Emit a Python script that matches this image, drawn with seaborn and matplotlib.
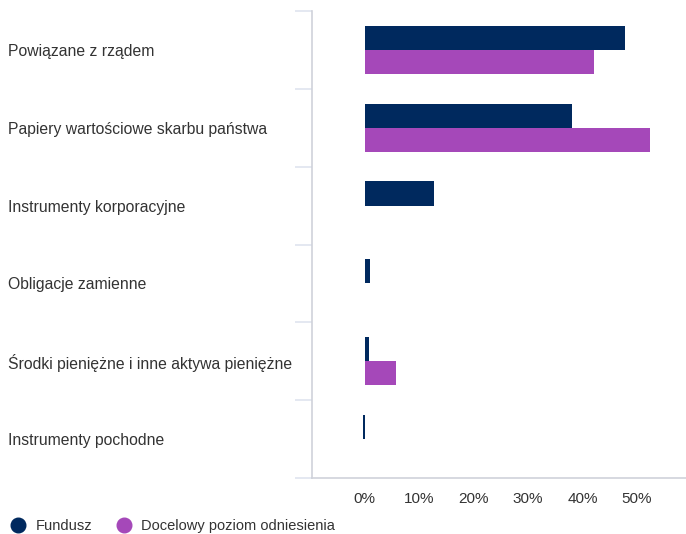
import matplotlib
matplotlib.use('Agg')
import matplotlib.pyplot as plt
from matplotlib.lines import Line2D
from matplotlib.ticker import FuncFormatter
import seaborn as sns
import pandas as pd

categories = ['Powiązane z rządem',
              'Papiery wartościowe skarbu państwa',
              'Instrumenty korporacyjne',
              'Obligacje zamienne',
              'Środki pieniężne i inne aktywa pieniężne',
              'Instrumenty pochodne']
fundusz = [47.8, 38.0, 12.7, 1.0, 0.8, -0.3]
docelowy = [42.1, 52.4, 0.0, 0.0, 5.7, 0.0]
series_names = ['Fundusz', 'Docelowy poziom odniesienia']
x_ticks = [0, 10, 20, 30, 40, 50]

navy = '#00295e'
purple = '#a548b9'
text_col = '#333333'

df = pd.DataFrame({
    'kategoria': categories * 2,
    'wartosc': fundusz + docelowy,
    'seria': [series_names[0]] * len(categories) + [series_names[1]] * len(categories),
})

sns.set_style('white')
plt.rcParams['font.family'] = ['Liberation Sans', 'DejaVu Sans']

fig = plt.figure(figsize=(6.86, 5.34), dpi=100)
ax = fig.add_axes([312 / 686, 56 / 534, 374 / 686, 467 / 534])

sns.barplot(data=df, x='wartosc', y='kategoria', hue='seria', orient='h',
            palette=[navy, purple], width=0.62, ax=ax, legend=False,
            saturation=1, linewidth=0)

ax.set_xlim(-9.7, 59.0)
ax.set_ylim(len(categories) - 0.5, -0.5)
ax.set_xticks(x_ticks)
ax.xaxis.set_major_formatter(FuncFormatter(lambda v, p: f'{v:.0f}%'))
ax.tick_params(axis='x', length=0, pad=10, labelsize=11, labelcolor=text_col)

# boundaries as major ticks, names as minor ticks at the centres
ax.set_yticks([i - 0.5 for i in range(len(categories) + 1)])
ax.set_yticklabels([])
ax.set_yticks(range(len(categories)), minor=True)
ax.set_yticklabels(categories, minor=True)
ax.tick_params(axis='y', which='major', left=True, length=12, width=1.2,
               color='#dfe4ef', direction='out')
ax.tick_params(axis='y', which='minor', left=True, length=0, pad=304 * 0.72,
               labelsize=11.3, labelcolor=text_col)
for lab in ax.get_yticklabels(minor=True):
    lab.set_horizontalalignment('left')

ax.set_xlabel('')
ax.set_ylabel('')
for s in ['top', 'right']:
    ax.spines[s].set_visible(False)
ax.spines['left'].set_color('#cfd2da')
ax.spines['bottom'].set_color('#cfd2da')
ax.spines['left'].set_linewidth(1.2)
ax.spines['bottom'].set_linewidth(1.2)

handles = [Line2D([], [], marker='o', linestyle='', markersize=10.5, color=c)
           for c in [navy, purple]]
fig.legend(handles, series_names, loc='lower left', bbox_to_anchor=(-0.006, -0.022), ncol=2,
           frameon=False, fontsize=10.5, handletextpad=0.6, columnspacing=1.6,
           handlelength=1.2, labelcolor=text_col)

fig.savefig('out.png', dpi=100)
